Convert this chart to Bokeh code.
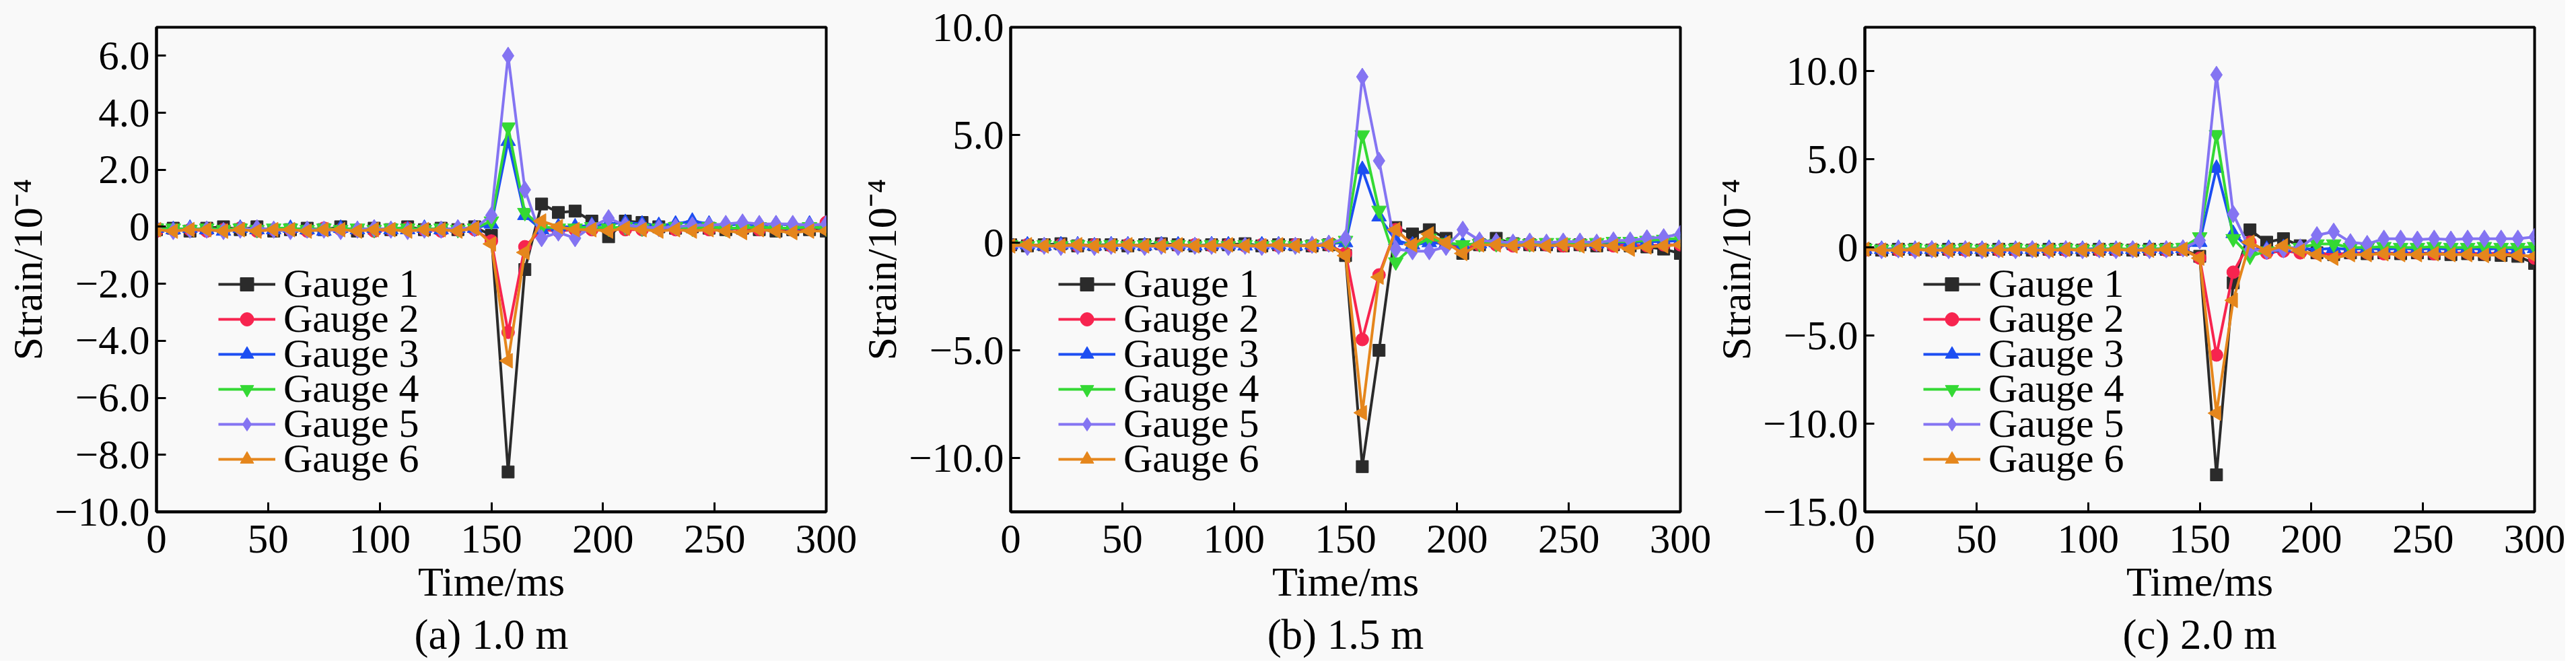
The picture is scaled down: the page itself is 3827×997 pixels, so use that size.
import math
from bokeh.plotting import figure
from bokeh.layouts import row
from bokeh.models import Range1d, FixedTicker, CustomJSTickFormatter, Title, Legend, LegendItem
from bokeh.embed import file_html
from bokeh.resources import INLINE

time_ms = [0, 7.5, 15, 22.5, 30, 37.5, 45, 52.5, 60, 67.5, 75, 82.5, 90, 97.5, 105, 112.5, 120, 127.5, 135, 142.5,
           150, 157.5, 165, 172.5, 180, 187.5, 195, 202.5, 210, 217.5, 225, 232.5, 240, 247.5, 255, 262.5, 270, 277.5, 285, 292.5, 300]

labels = ["Gauge 1", "Gauge 2", "Gauge 3", "Gauge 4", "Gauge 5", "Gauge 6"]
colors = ["#2b2b2b", "#f7244f", "#1c4ef2", "#34d934", "#8474f2", "#e5861c"]

# (a) 1.0 m
p1_g1 = [-0.10,-0.05,-0.15,-0.05,0.00,-0.10,0.00,-0.15,-0.10,-0.05,-0.10,0.00,-0.15,-0.05,-0.10,0.00,-0.10,-0.05,-0.10,0.00,
         -0.30,-8.60,-1.50,0.80,0.50,0.55,0.20,-0.35,0.20,0.15,0.00,-0.05,0.00,-0.05,-0.10,-0.05,-0.10,-0.15,-0.10,-0.10,-0.15]
p1_g2 = [-0.15,-0.10,-0.10,-0.15,-0.10,-0.05,-0.15,-0.10,-0.10,-0.15,-0.05,-0.10,-0.10,-0.15,-0.10,-0.05,-0.10,-0.15,-0.10,-0.10,
         -0.50,-3.70,-0.70,-0.10,-0.15,-0.10,-0.10,-0.05,-0.10,-0.10,-0.05,-0.10,-0.05,-0.10,-0.05,-0.10,-0.10,-0.05,-0.10,-0.05,0.15]
p1_g3 = [-0.05,-0.10,-0.05,-0.10,-0.15,-0.05,-0.10,-0.10,-0.05,-0.10,-0.15,-0.05,-0.10,-0.05,-0.10,-0.10,-0.05,-0.10,-0.05,-0.05,
         0.10,3.00,0.40,-0.10,0.00,0.00,0.05,0.10,0.15,0.10,0.05,0.10,0.20,0.10,0.05,0.10,0.05,0.10,0.05,0.10,0.05]
p1_g4 = [-0.05,-0.05,-0.10,-0.05,-0.10,-0.05,-0.10,-0.05,-0.05,-0.10,-0.05,-0.10,-0.05,-0.10,-0.05,-0.05,-0.10,-0.05,-0.10,-0.05,
         0.20,3.50,0.50,0.00,-0.05,-0.05,0.00,-0.05,0.00,-0.05,-0.05,0.00,-0.05,0.00,-0.05,-0.05,0.00,-0.05,-0.05,0.00,-0.05]
p1_g5 = [-0.10,-0.15,-0.10,-0.10,-0.15,-0.10,-0.05,-0.10,-0.15,-0.10,-0.10,-0.15,-0.10,-0.05,-0.10,-0.15,-0.10,-0.10,-0.05,-0.05,
         0.40,6.00,1.30,-0.40,-0.20,-0.40,0.00,0.30,0.05,0.00,-0.05,0.00,0.05,0.05,0.10,0.15,0.10,0.10,0.10,0.05,0.10]
p1_g6 = [-0.10,-0.15,-0.10,-0.10,-0.15,-0.10,-0.15,-0.10,-0.10,-0.15,-0.10,-0.10,-0.15,-0.10,-0.10,-0.15,-0.10,-0.10,-0.15,-0.05,
         -0.60,-4.70,-0.90,0.20,0.00,-0.10,-0.10,-0.15,-0.05,-0.10,-0.15,-0.10,-0.15,-0.10,-0.15,-0.20,-0.10,-0.15,-0.20,-0.15,-0.15]

# (b) 1.5 m
p2_g1 = [-0.10,-0.15,-0.10,-0.05,-0.15,-0.10,-0.10,-0.15,-0.10,-0.05,-0.10,-0.15,-0.10,-0.10,-0.05,-0.15,-0.10,-0.10,-0.15,-0.10,
         -0.60,-10.40,-5.00,0.70,0.40,0.60,0.20,-0.50,-0.10,0.20,-0.05,-0.10,-0.10,-0.15,-0.10,-0.15,-0.10,-0.15,-0.20,-0.30,-0.50]
p2_g2 = [-0.15,-0.10,-0.15,-0.10,-0.15,-0.10,-0.15,-0.10,-0.15,-0.10,-0.15,-0.10,-0.15,-0.10,-0.15,-0.10,-0.15,-0.10,-0.15,-0.10,
         -0.50,-4.50,-1.50,0.60,-0.10,0.10,-0.10,-0.30,-0.10,-0.10,-0.15,-0.10,-0.10,-0.15,-0.10,-0.10,-0.15,-0.10,-0.15,-0.10,-0.10]
p2_g3 = [-0.10,-0.10,-0.15,-0.10,-0.10,-0.15,-0.10,-0.10,-0.15,-0.10,-0.10,-0.15,-0.10,-0.10,-0.15,-0.10,-0.10,-0.15,-0.10,-0.05,
         0.00,3.40,1.20,0.10,-0.10,0.00,-0.05,-0.10,-0.05,0.00,-0.05,0.00,-0.05,0.00,0.00,-0.05,0.00,0.00,0.05,0.05,0.10]
p2_g4 = [-0.10,-0.15,-0.10,-0.15,-0.10,-0.15,-0.10,-0.15,-0.10,-0.15,-0.10,-0.15,-0.10,-0.15,-0.10,-0.15,-0.10,-0.15,-0.10,-0.05,
         0.10,5.00,1.50,-0.90,-0.20,0.20,0.00,-0.10,-0.05,-0.05,0.00,-0.05,0.00,0.00,-0.05,0.00,0.05,0.05,0.10,0.15,0.20]
p2_g5 = [-0.15,-0.20,-0.15,-0.20,-0.15,-0.20,-0.15,-0.15,-0.20,-0.15,-0.20,-0.15,-0.15,-0.20,-0.15,-0.20,-0.15,-0.15,-0.10,-0.05,
         0.20,7.70,3.80,-0.30,-0.40,-0.40,-0.20,0.60,0.10,0.05,0.00,0.05,0.00,0.05,0.05,0.00,0.10,0.10,0.20,0.25,0.40]
p2_g6 = [-0.15,-0.10,-0.15,-0.15,-0.10,-0.15,-0.15,-0.10,-0.15,-0.15,-0.10,-0.15,-0.15,-0.10,-0.15,-0.15,-0.10,-0.15,-0.15,-0.10,
         -0.60,-7.90,-1.60,0.60,-0.10,0.40,0.00,-0.50,-0.10,-0.10,-0.15,-0.10,-0.15,-0.10,-0.15,-0.10,-0.15,-0.30,-0.20,-0.15,-0.10]

# (c) 2.0 m
p3_g1 = [-0.10,-0.15,-0.10,-0.10,-0.15,-0.10,-0.10,-0.15,-0.10,-0.10,-0.15,-0.10,-0.10,-0.15,-0.10,-0.10,-0.15,-0.10,-0.10,-0.10,
         -0.50,-12.90,-2.00,1.00,0.30,0.50,0.10,-0.30,-0.40,-0.30,-0.35,-0.30,-0.35,-0.30,-0.35,-0.40,-0.35,-0.40,-0.45,-0.50,-0.90]
p3_g2 = [-0.15,-0.10,-0.15,-0.15,-0.10,-0.15,-0.15,-0.10,-0.15,-0.15,-0.10,-0.15,-0.15,-0.10,-0.15,-0.15,-0.10,-0.15,-0.15,-0.10,
         -0.60,-6.10,-1.40,0.30,-0.30,-0.20,-0.30,-0.30,-0.40,-0.30,-0.30,-0.35,-0.30,-0.30,-0.35,-0.30,-0.30,-0.35,-0.30,-0.35,-0.60]
p3_g3 = [-0.10,-0.10,-0.05,-0.10,-0.10,-0.05,-0.10,-0.10,-0.05,-0.10,-0.10,-0.05,-0.10,-0.10,-0.05,-0.10,-0.10,-0.05,-0.10,-0.05,
         0.30,4.50,0.80,-0.10,-0.10,0.00,-0.05,-0.10,-0.05,-0.10,-0.05,-0.10,-0.05,-0.10,-0.05,-0.10,-0.05,-0.10,-0.05,-0.10,-0.05]
p3_g4 = [-0.05,-0.10,-0.10,-0.05,-0.10,-0.10,-0.05,-0.10,-0.10,-0.05,-0.10,-0.10,-0.05,-0.10,-0.10,-0.05,-0.10,-0.10,-0.05,0.00,
         0.60,6.40,0.50,-0.50,-0.20,-0.10,0.00,0.20,0.20,0.00,0.00,0.05,0.00,0.00,0.05,0.00,0.00,0.05,0.00,0.00,0.05]
p3_g5 = [-0.10,-0.15,-0.10,-0.15,-0.10,-0.15,-0.10,-0.15,-0.10,-0.15,-0.10,-0.15,-0.10,-0.15,-0.10,-0.15,-0.10,-0.15,-0.10,-0.05,
         0.40,9.80,1.90,-0.10,-0.20,-0.10,0.00,0.70,0.90,0.30,0.20,0.50,0.50,0.45,0.50,0.45,0.50,0.50,0.50,0.50,0.60]
p3_g6 = [-0.10,-0.15,-0.15,-0.10,-0.15,-0.15,-0.10,-0.15,-0.15,-0.10,-0.15,-0.15,-0.10,-0.15,-0.15,-0.10,-0.15,-0.15,-0.10,-0.10,
         -0.60,-9.40,-3.00,0.30,-0.20,0.10,-0.20,-0.40,-0.60,-0.40,-0.40,-0.35,-0.40,-0.40,-0.35,-0.40,-0.40,-0.45,-0.40,-0.45,-0.50]

x_ticks = [0, 50, 100, 150, 200, 250, 300]
p1_yticks = [-10, -8, -6, -4, -2, 0, 2, 4, 6]
p2_yticks = [-10, -5, 0, 5, 10]
p3_yticks = [-15, -10, -5, 0, 5, 10]

BG = "#f9f9f9"
FONT = "Liberation Serif"
markers = [("square", 0.0, 18), ("circle", 0.0, 19), ("triangle", 0.0, 22),
           ("inverted_triangle", 0.0, 22), ("diamond", 0.0, 26), ("triangle", math.pi / 2, 22)]

yfmt_code = """
if (Math.abs(tick) < 1e-9) { return '0'; }
var s = Math.abs(tick).toFixed(1);
return (tick < 0 ? '\\u2212' : '') + s;
"""


def make_panel(series, yr, yticks, caption, legend_x, bl, br):
    p = figure(frame_width=995, frame_height=720,
               x_range=Range1d(0, 300), y_range=Range1d(yr[0], yr[1]),
               output_backend="svg", toolbar_location=None,
               min_border_left=bl, min_border_right=br, min_border_top=40, min_border_bottom=150,
               background_fill_color=BG, border_fill_color=BG)
    p.grid.visible = False
    p.outline_line_color = "black"
    p.outline_line_width = 4

    rends = []
    for i, ys in enumerate(series):
        mk, ang, sz = markers[i]
        rl = p.line(time_ms, ys, line_color=colors[i], line_width=4)
        rs = p.scatter(time_ms, ys, marker=mk, angle=ang, size=sz, fill_color=colors[i],
                       line_color=colors[i])
        rends.append((rl, rs))

    for ax in (p.xaxis[0], p.yaxis[0]):
        ax.axis_line_width = 4
        ax.axis_line_color = "black"
        ax.major_tick_in = 14
        ax.major_tick_out = 0
        ax.major_tick_line_width = 3
        ax.major_tick_line_color = "black"
        ax.minor_tick_line_color = None
        ax.major_label_text_font = FONT
        ax.major_label_text_font_size = "61px"
        ax.major_label_text_color = "black"
        ax.axis_label_text_font = FONT
        ax.axis_label_text_font_size = "62px"
        ax.axis_label_text_font_style = "normal"
        ax.axis_label_text_color = "black"

    p.xaxis.ticker = FixedTicker(ticks=x_ticks)
    p.xaxis.major_label_standoff = 20
    p.xaxis.axis_label = "Time/ms"
    p.xaxis.axis_label_standoff = 6

    p.yaxis.ticker = FixedTicker(ticks=yticks)
    p.yaxis.formatter = CustomJSTickFormatter(code=yfmt_code)
    p.yaxis.major_label_standoff = 10
    p.yaxis.axis_label = "Strain/10\u207b\u2074"
    p.yaxis.axis_label_standoff = 3

    p.add_layout(Title(text=caption, align="center", offset=-58, text_font=FONT,
                       text_font_size="63px", text_font_style="normal", text_color="black"), "below")

    for i, (rl, rs) in enumerate(rends):
        lg = Legend(items=[LegendItem(label=labels[i], renderers=[rl, rs])],
                    location=(legend_x, 44 + (5 - i) * 52))
        lg.background_fill_alpha = 0
        lg.border_line_alpha = 0
        lg.padding = 0
        lg.margin = 0
        lg.glyph_width = 85
        lg.glyph_height = 50
        lg.label_standoff = 12
        lg.label_text_font = FONT
        lg.label_text_font_size = "60px"
        lg.label_text_color = "black"
        p.add_layout(lg)
    return p


p1 = make_panel([p1_g1, p1_g2, p1_g3, p1_g4, p1_g5, p1_g6], (-10, 7), p1_yticks, "(a) 1.0 m", 92, 232, 46)
p2 = make_panel([p2_g1, p2_g2, p2_g3, p2_g4, p2_g5, p2_g6], (-12.5, 10), p2_yticks, "(b) 1.5 m", 71, 225, 46)
p3 = make_panel([p3_g1, p3_g2, p3_g3, p3_g4, p3_g5, p3_g6], (-15, 12.5), p3_yticks, "(c) 2.0 m", 87, 225, 46)

layout = row(p1, p2, p3)
layout.styles = {"background-color": BG}
open("out.html", "w").write(file_html(layout, INLINE))
